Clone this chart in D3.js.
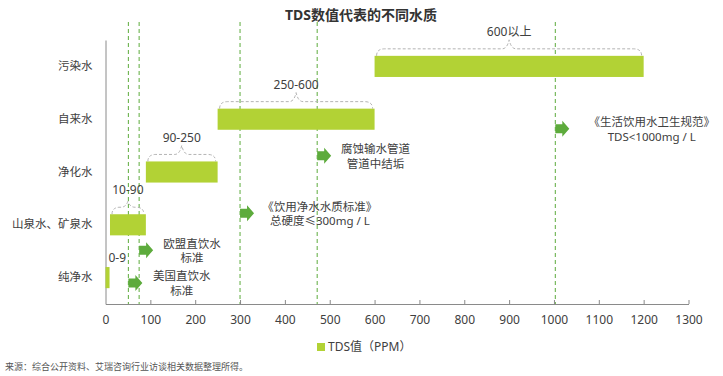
<!DOCTYPE html>
<html><head><meta charset="utf-8">
<script src="https://cdn.jsdelivr.net/npm/d3@7"></script>
<style>
body{margin:0;background:#fff;}
svg text{font-family:"Noto Sans","Noto Sans CJK SC",sans-serif;}
</style></head>
<body><svg id="c" width="723" height="376"></svg>
<script>
// ---- data ----
const categories = ['污染水','自来水','净化水','山泉水、矿泉水','纯净水'];
const rangeStart = [600, 250, 90, 10, 0];
const rangeEnd   = [1200, 600, 250, 90, 9];
const rangeLabels = ['600以上','250-600','90-250','10-90','0-9'];
const xTicks = [0,100,200,300,400,500,600,700,800,900,1000,1100,1200,1300];
const refValues = [51, 75, 300, 472, 1003];
const refLine1 = ['美国直饮水','欧盟直饮水','《饮用净水水质标准》','腐蚀输水管道','《生活饮用水卫生规范》'];
const refLine2 = ['标准','标准','总硬度≤300mg / L','管道中结垢','TDS<1000mg / L'];
const refLane  = [0.40, 1.02, 1.72, 2.81, 3.32];   // vertical position in row units (0 = bottom)
const refLabelAt = [170, 193, 478, 602, 1218];     // label centre, in TDS units
const title = 'TDS数值代表的不同水质';
const legendLabel = 'TDS值（PPM）';
const source = '来源：综合公开资料、艾瑞咨询行业访谈相关数据整理所得。';

// ---- styles ----
const barColor = '#b2d235', green = '#5dab3c', textColor = '#404040', axisColor = '#8a8a8a';

const svg = d3.select('#c');
const x = d3.scaleLinear().domain([0,1300]).range([105.5, 688.5]);
const y = d3.scaleBand().domain(categories).range([40, 304]).paddingInner(0.6).paddingOuter(0.3);
const lane = d3.scaleLinear().domain([0,5]).range([304,40]);

// title
svg.append('text').attr('x',361).attr('y',20).attr('text-anchor','middle')
  .attr('font-size',14).attr('font-weight','bold').attr('fill','#333').text(title);

// reference dashed lines
svg.selectAll('.ref').data(refValues).join('line')
  .attr('x1',d=>x(d)).attr('x2',d=>x(d)).attr('y1',22).attr('y2',304)
  .attr('stroke',green).attr('stroke-width',1).attr('stroke-dasharray','4,3');

// x axis
const xAxis = d3.axisBottom(x).tickValues(xTicks).tickFormat(d3.format('d'))
  .tickSizeInner(-4).tickSizeOuter(0).tickPadding(11);
const gx = svg.append('g').attr('transform','translate(0,304)').call(xAxis);
gx.select('.domain').attr('stroke',axisColor);
gx.selectAll('.tick line').attr('stroke',axisColor).filter(d=>d===0).remove();
gx.selectAll('.tick text').attr('fill',textColor).attr('font-size',12)
  .style('font-family','"Noto Sans","Noto Sans CJK SC",sans-serif');

// y axis
const yAxis = d3.axisLeft(y).tickSize(0).tickPadding(13);
const gy = svg.append('g').attr('transform',`translate(${x(0)},0)`).call(yAxis);
gy.select('.domain').attr('stroke',axisColor);
gy.selectAll('.tick text').attr('fill',textColor).attr('font-size',11.5)
  .style('font-family','"Noto Sans CJK SC",sans-serif');

// bars
svg.selectAll('.bar').data(categories).join('rect')
  .attr('x',(d,i)=>x(rangeStart[i])).attr('width',(d,i)=>x(rangeEnd[i])-x(rangeStart[i]))
  .attr('y',d=>y(d)).attr('height',y.bandwidth()).attr('fill',barColor);

// brackets + labels
categories.forEach((c,i)=>{
  const x0 = x(rangeStart[i]), x1 = x(rangeEnd[i]), top = y(c), cx = (x0+x1)/2;
  const hasBracket = (x1-x0) > 10;
  if(hasBracket){
    const h = 7, pk = (x1-x0) < 50 ? 13 : 16;
    const p = `M${x0+2},${top} Q${x0+2},${top-h} ${x0+10},${top-h} L${cx-7},${top-h} Q${cx-2},${top-h} ${cx},${top-pk} Q${cx+2},${top-h} ${cx+7},${top-h} L${x1-10},${top-h} Q${x1-2},${top-h} ${x1-2},${top}`;
    svg.append('path').attr('d',p).attr('fill','none').attr('stroke','#b4b4b4')
      .attr('stroke-width',1).attr('stroke-dasharray','3,2');
    svg.append('text').attr('x',cx).attr('y',top-24).attr('dy','0.35em').attr('text-anchor','middle')
      .attr('font-size',12).attr('fill',textColor).text(rangeLabels[i]);
  } else {
    svg.append('text').attr('x',x0+3).attr('y',top-9).attr('dy','0.35em').attr('text-anchor','start')
      .attr('font-size',12).attr('fill',textColor).text(rangeLabels[i]);
  }
});

// arrows + annotation texts
refValues.forEach((v,i)=>{
  const ax = x(v), ay = lane(refLane[i]);
  const p = `M${ax},${ay-4.5} L${ax+7},${ay-4.5} L${ax+7},${ay-8} L${ax+14},${ay} L${ax+7},${ay+8} L${ax+7},${ay+4.5} L${ax},${ay+4.5} Z`;
  svg.append('path').attr('d',p).attr('fill',green);
  const tx = x(refLabelAt[i]);
  svg.append('text').attr('x',tx).attr('y',ay-6.5).attr('dy','0.35em').attr('text-anchor','middle')
    .attr('font-size',11.5).attr('fill',textColor).text(refLine1[i]);
  svg.append('text').attr('x',tx).attr('y',ay+8).attr('dy','0.35em').attr('text-anchor','middle')
    .attr('font-size',11.5).attr('fill',textColor).text(refLine2[i]);
});

// legend
svg.append('rect').attr('x',317).attr('y',343).attr('width',8).attr('height',8).attr('fill',barColor);
svg.append('text').attr('x',328).attr('y',347).attr('dy','0.35em').attr('font-size',12)
  .attr('fill',textColor).text(legendLabel);

// source
svg.append('text').attr('x',5).attr('y',367).attr('dy','0.35em').attr('font-size',9)
  .attr('fill','#555').style('font-family','"Noto Sans CJK SC",sans-serif').text(source);
</script></body></html>
